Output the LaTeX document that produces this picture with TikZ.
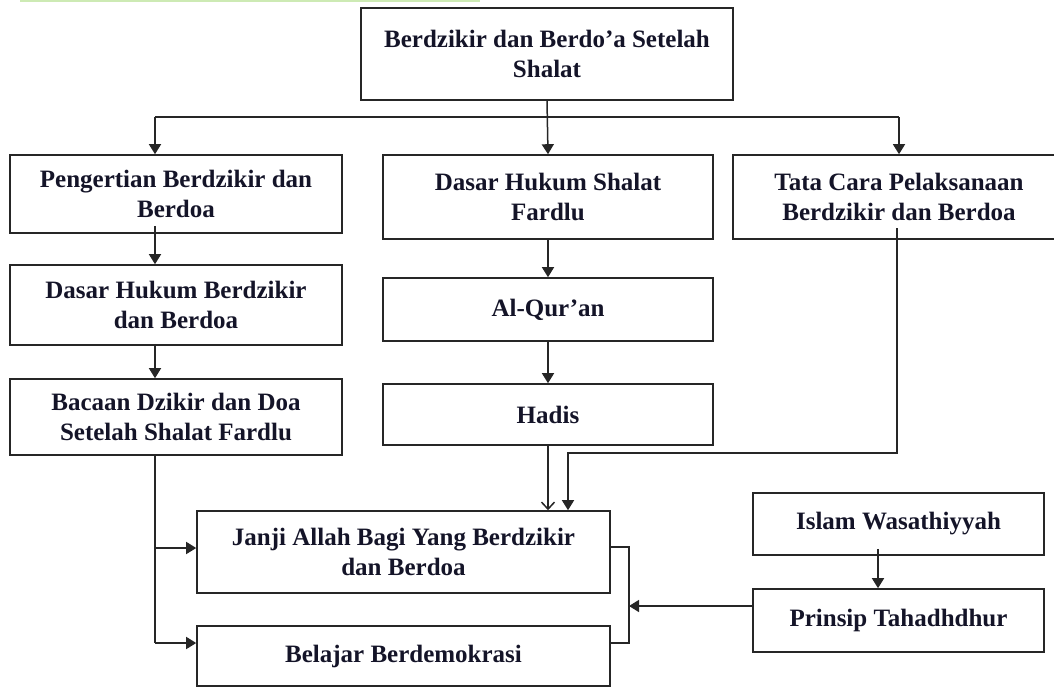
\documentclass[tikz,border=0pt]{standalone}
\usepackage{fontspec}
\setmainfont{Liberation Serif}
\usetikzlibrary{arrows.meta}
\definecolor{txt}{HTML}{141428}
\definecolor{lgreen}{HTML}{CDEAB4}
\tikzset{
  box/.style={draw=black!85, line width=1.6pt, rectangle, align=center, inner sep=0pt,
    font=\fontsize{25}{30}\selectfont\bfseries, text=txt},
  conn/.style={draw=black!85, line width=1.5pt},
  arr/.style={conn, -{Triangle[length=10pt,width=12pt]}},
  openarr/.style={conn, -{Straight Barb[length=7pt,width=13pt]}}
}
\begin{document}
\begin{tikzpicture}[x=1pt,y=-1pt]
\useasboundingbox (0,0) rectangle (1054,688);
\draw[lgreen, line width=2pt] (20,0.8) -- (480,0.8);

\node[box, minimum width=372pt, minimum height=92pt] (top) at (547,54) {Berdzikir dan Berdo'a Setelah\\Shalat};
\node[box, minimum width=332pt, minimum height=78pt] (peng) at (176,194) {Pengertian Berdzikir dan\\Berdoa};
\node[box, minimum width=330pt, minimum height=84pt] (dasarS) at (548,197) {Dasar Hukum Shalat\\Fardlu};
\node[box, minimum width=332pt, minimum height=84pt] (tata) at (899,197) {Tata Cara Pelaksanaan\\Berdzikir dan Berdoa};
\node[box, minimum width=332pt, minimum height=80pt] (dasarB) at (176,305) {Dasar Hukum Berdzikir\\dan Berdoa};
\node[box, minimum width=332pt, minimum height=76pt] (bacaan) at (176,417) {Bacaan Dzikir dan Doa\\Setelah Shalat Fardlu};
\node[box, minimum width=330pt, minimum height=63pt] (quran) at (548,309.5) {Al-Qur'an};
\node[box, minimum width=330pt, minimum height=61pt] (hadis) at (548,414.5) {Hadis};
\node[box, minimum width=413pt, minimum height=82pt] (janji) at (403.5,552) {Janji Allah Bagi Yang Berdzikir\\dan Berdoa};
\node[box, minimum width=413pt, minimum height=60pt] (belajar) at (403.5,656) {Belajar Berdemokrasi};
\node[box, minimum width=291pt, minimum height=62pt] (islam) at (898.5,524) {Islam Wasathiyyah};
\node[box, minimum width=291pt, minimum height=63pt] (prinsip) at (898.5,620.5) {Prinsip Tahadhdhur};

% bus from the top box
\coordinate (busL) at (155,117);
\coordinate (busR) at (899,117);
\draw[conn] (busL) -- (busR);
\draw[arr] (top.south) -- (dasarS.north);
\draw[arr] (busL) -- (busL |- peng.north);
\draw[arr] (busR) -- (busR |- tata.north);

% left column
\coordinate (xL) at (155,0);
\draw[arr] ([yshift=8pt]peng.south -| xL) -- (dasarB.north -| xL);
\draw[arr] ([yshift=2pt]dasarB.south -| xL) -- (bacaan.north -| xL);
\coordinate (lJ) at (155,548);
\coordinate (lB) at (155,643);
\draw[conn] (bacaan.south -| xL) -- (lB);
\draw[arr] (lJ) -- (lJ -| janji.west);
\draw[arr] (lB) -- (lB -| belajar.west);

% middle column
\draw[arr] (dasarS.south) -- (quran.north);
\draw[arr] (quran.south) -- (hadis.north);
\draw[openarr] (hadis.south) -- (janji.north -| hadis.south);

% Tata Cara to Janji
\coordinate (tA) at (897,228);
\coordinate (tB) at (897,453);
\coordinate (tC) at (568,453);
\draw[arr] (tA) -- (tB) -- (tC) -- (tC |- janji.north);

% right side
\coordinate (xI) at (878,0);
\draw[arr] ([yshift=7pt]islam.south -| xI) -- (prinsip.north -| xI);
\coordinate (bJ) at (629,547);
\coordinate (bB) at (629,643);
\draw[conn] (bJ -| janji.east) -- (bJ) -- (bB) -- (bB -| belajar.east);
\coordinate (pA) at (0,606);
\draw[arr] (pA -| prinsip.west) -- (pA -| bJ);
\end{tikzpicture}
\end{document}
